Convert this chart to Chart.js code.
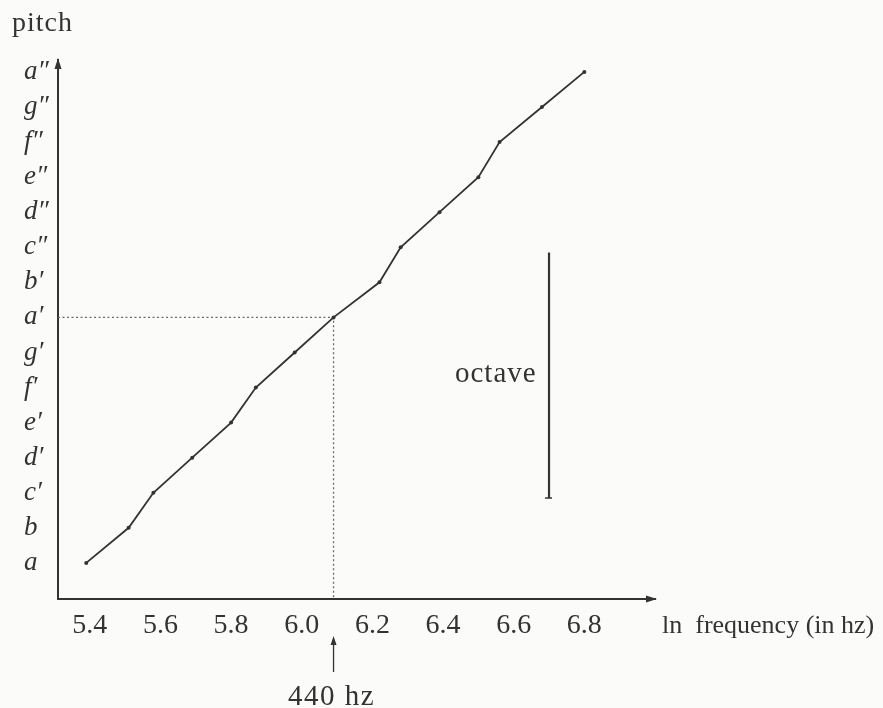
<!DOCTYPE html>
<html>
<head>
<meta charset="utf-8">
<style>
  html, body { margin: 0; padding: 0; background: #fbfbf9; }
  #wrap { width: 883px; height: 708px; }
</style>
<script src="https://cdn.jsdelivr.net/npm/chart.js@4.4.1/dist/chart.umd.min.js"></script>
</head>
<body>
<div id="wrap"><canvas id="chart" width="883" height="708"></canvas></div>
<script>
// pitch names, bottom to top
const pitchLabels = ['a', 'b', 'c′', 'd′', 'e′', 'f′', 'g′', 'a′', 'b′', 'c″', 'd″', 'e″', 'f″', 'g″', 'a″'];
// ln of the frequency, one per pitch
const lnFreq = [5.39, 5.51, 5.58, 5.69, 5.80, 5.87, 5.98, 6.09, 6.22, 6.28, 6.39, 6.50, 6.56, 6.68, 6.80];
const xTicks = [5.4, 5.6, 5.8, 6.0, 6.2, 6.4, 6.6, 6.8];

// a' = 440 hz marker
const refIndex = 7;
const refLn = 6.09;
// octave bar (x position and pitch span)
const octaveX = 6.70;
const octaveSpan = [1.85, 8.85];

const ink = '#333333';
const serif = '"Liberation Serif", "DejaVu Serif", serif';

const curve = lnFreq.map((v, i) => ({ x: v, y: i }));
const xMin = 5.31, xMax = 7.0, yMin = -1.03, yMax = 14.34;

const guide = [
  { x: xMin, y: refIndex },
  { x: refLn, y: refIndex },
  { x: refLn, y: yMin }
];
const octave = octaveSpan.map(v => ({ x: octaveX, y: v }));

function spaced(ctx, text, x, y, spacing) {
  ctx.letterSpacing = spacing + 'px';
  ctx.fillText(text, x, y);
  ctx.letterSpacing = '0px';
}

// arrows, axis titles and notes
const decorations = {
  id: 'decorations',
  afterDraw(chart) {
    const ctx = chart.ctx;
    const a = chart.chartArea;
    const xs = chart.scales.x;
    const ys = chart.scales.y;
    ctx.save();
    ctx.fillStyle = ink;
    ctx.strokeStyle = ink;

    // axis arrow heads
    ctx.beginPath();
    ctx.moveTo(a.left, a.top - 2);
    ctx.lineTo(a.left - 3.5, a.top + 9);
    ctx.lineTo(a.left + 3.5, a.top + 9);
    ctx.closePath();
    ctx.fill();
    ctx.beginPath();
    ctx.moveTo(a.right + 2, a.bottom);
    ctx.lineTo(a.right - 9, a.bottom - 3.5);
    ctx.lineTo(a.right - 9, a.bottom + 3.5);
    ctx.closePath();
    ctx.fill();

    // titles
    ctx.textBaseline = 'alphabetic';
    ctx.textAlign = 'left';
    ctx.font = '28px ' + serif;
    spaced(ctx, 'pitch', 12, 31, 1);
    ctx.font = '26px ' + serif;
    spaced(ctx, 'ln  frequency (in hz)', 662, 633, 0);

    // octave note
    ctx.font = '29px ' + serif;
    const oy = ys.getPixelForValue((octaveSpan[0] + octaveSpan[1]) / 2);
    spaced(ctx, 'octave', 455, oy + 7, 1);

    // small foot on the octave bar
    const ox = xs.getPixelForValue(octaveX);
    const ob = ys.getPixelForValue(octaveSpan[0]);
    ctx.lineWidth = 1.5;
    ctx.beginPath();
    ctx.moveTo(ox - 4, ob);
    ctx.lineTo(ox + 3, ob);
    ctx.stroke();

    // 440 hz arrow
    const rx = xs.getPixelForValue(refLn);
    ctx.lineWidth = 1.3;
    ctx.beginPath();
    ctx.moveTo(rx, 672);
    ctx.lineTo(rx, 642);
    ctx.stroke();
    ctx.beginPath();
    ctx.moveTo(rx, 636);
    ctx.lineTo(rx - 3, 645);
    ctx.lineTo(rx + 3, 645);
    ctx.closePath();
    ctx.fill();
    ctx.textAlign = 'left';
    spaced(ctx, '440 hz', 288, 705, 1.5);
    ctx.restore();
  }
};

new Chart(document.getElementById('chart'), {
  type: 'scatter',
  data: {
    datasets: [
      {
        data: curve,
        showLine: true,
        borderColor: ink,
        borderWidth: 1.8,
        pointRadius: 2,
        pointBackgroundColor: ink,
        pointBorderWidth: 0,
        tension: 0
      },
      {
        data: guide,
        showLine: true,
        borderColor: '#6a6a6a',
        borderWidth: 1.3,
        borderDash: [2, 2.5],
        pointRadius: 0
      },
      {
        data: octave,
        showLine: true,
        borderColor: ink,
        borderWidth: 2.2,
        pointRadius: 0
      }
    ]
  },
  options: {
    responsive: false,
    animation: false,
    events: [],
    layout: { padding: { top: 60, right: 228, left: 24, bottom: 0 } },
    plugins: { legend: { display: false }, tooltip: { enabled: false } },
    scales: {
      x: {
        type: 'linear',
        min: xMin,
        max: xMax,
        afterFit: s => { s.height = 109; },
        afterBuildTicks: s => { s.ticks = xTicks.map(v => ({ value: v })); },
        grid: { display: false, drawTicks: false },
        border: { display: true, color: ink, width: 2 },
        ticks: {
          color: '#333',
          padding: 10,
          font: { family: serif, size: 28 },
          callback: v => v.toFixed(1)
        }
      },
      y: {
        type: 'linear',
        min: yMin,
        max: yMax,
        afterFit: s => { s.width = 34; },
        afterBuildTicks: s => { s.ticks = pitchLabels.map((p, i) => ({ value: i })); },
        grid: { display: false, drawTicks: false },
        border: { display: true, color: ink, width: 2 },
        ticks: {
          color: '#333',
          padding: 6,
          crossAlign: 'far',
          font: { family: serif, size: 27, style: 'italic' },
          callback: v => pitchLabels[v]
        }
      }
    }
  },
  plugins: [decorations]
});
</script>
</body>
</html>
